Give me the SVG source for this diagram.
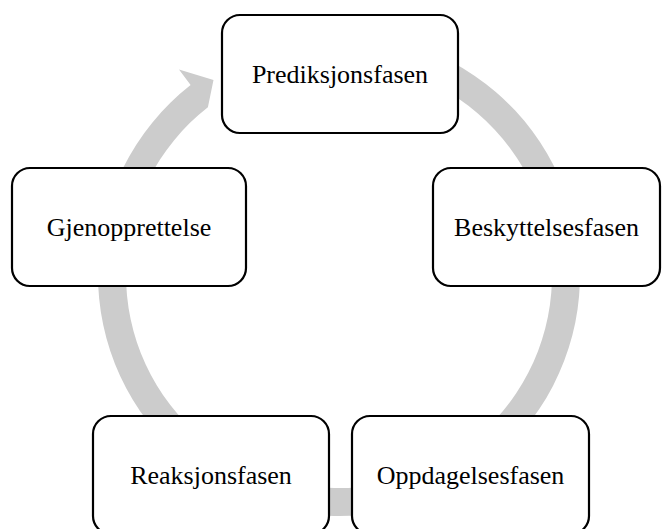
<svg xmlns="http://www.w3.org/2000/svg" width="662" height="529" viewBox="0 0 662 529">
  <style>
    .node rect { fill: #ffffff; stroke: #000000; stroke-width: 2.2; }
    .node text { font-family: "Liberation Serif", "Times New Roman", serif; font-size: 26px; fill: #000000; text-anchor: middle; }
    .ring { fill: #cccccc; stroke: none; }
  </style>

  <!-- continuous cycle arrow behind the phases -->
  <g id="connectors">
    <path class="ring" d="M 401.4 42.2 A 241 241 0 1 1 190.6 85.1 L 179 69.5 L 213.5 80 L 207.9 107.2 A 213 213 0 1 0 394.1 69.3 Z"/>
  </g>

  <g id="prediksjonsfasen" class="node">
    <rect x="222" y="15" width="236" height="118" rx="18" ry="18"/>
    <text x="340" y="83">Prediksjonsfasen</text>
  </g>

  <g id="beskyttelsesfasen" class="node">
    <rect x="433" y="168" width="227" height="118" rx="18" ry="18"/>
    <text x="546.5" y="236">Beskyttelsesfasen</text>
  </g>

  <g id="oppdagelsesfasen" class="node">
    <rect x="352" y="416" width="237" height="118" rx="18" ry="18"/>
    <text x="470.5" y="484">Oppdagelsesfasen</text>
  </g>

  <g id="reaksjonsfasen" class="node">
    <rect x="93" y="416" width="236" height="118" rx="18" ry="18"/>
    <text x="211" y="484">Reaksjonsfasen</text>
  </g>

  <g id="gjenopprettelse" class="node">
    <rect x="12" y="168" width="234" height="118" rx="18" ry="18"/>
    <text x="129" y="236">Gjenopprettelse</text>
  </g>
</svg>
